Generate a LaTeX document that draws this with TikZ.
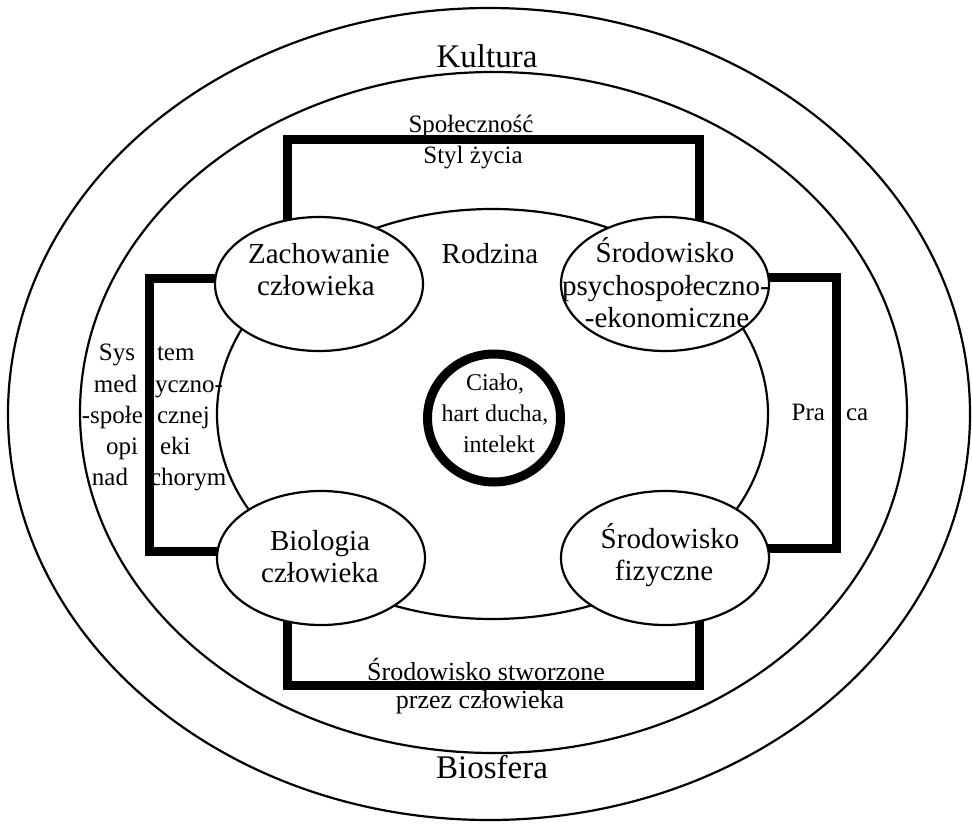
\documentclass[tikz,border=0pt]{standalone}
\usepackage{fontspec}
\setmainfont{Liberation Serif}
\usetikzlibrary{shapes.geometric,backgrounds,calc}
\begin{document}
\begin{tikzpicture}[x=1pt,y=-1pt,
  thinline/.style={draw=black, line width=2.2pt},
  oval/.style={ellipse, thinline, inner sep=0pt, outer sep=0pt},
  blob/.style={oval, fill=white, minimum width=208pt, minimum height=134pt},
  bracketline/.style={draw=black, line width=9pt, line join=miter},
  txt/.style={inner sep=0pt, outer sep=0pt, anchor=base},
  huge/.style={txt, font=\fontsize{33}{36}\selectfont},
  lbl/.style={txt, font=\fontsize{29}{32}\selectfont},
  smalltxt/.style={txt, font=\fontsize{25}{30}\selectfont},
  lefttxt/.style={smalltxt, anchor=base east},
  righttxt/.style={smalltxt, anchor=base west}
]
\useasboundingbox (0,0) rectangle (972,827);

% concentric ellipses
\node[oval, minimum width=962pt, minimum height=812pt] (biosfera) at (489,414) {};
\node[oval, minimum width=827pt, minimum height=681pt] (kultura) at (493.5,412.5) {};
\node[oval, minimum width=551pt, minimum height=410pt] (rodzina) at (492.5,414) {};

% the four factor ellipses
\node[blob] (zach) at (319,284) {};
\node[blob] (psych) at (665,284) {};
\node[blob] (biol) at (321,558) {};
\node[blob] (fiz) at (665,558) {};

% centre
\node[ellipse, draw=black, line width=9pt, inner sep=0pt, minimum width=133pt, minimum height=128pt] (core) at (494,418) {};

% thick connectors, behind the ellipses
\coordinate (tl) at (287,139);
\coordinate (tr) at (699,139);
\coordinate (lt) at (149,278);
\coordinate (lb) at (149,551);
\coordinate (rt) at (836,277);
\coordinate (rb) at (836,548);
\coordinate (bl) at (287,685);
\coordinate (br) at (699,685);
\begin{scope}[on background layer]
  \draw[bracketline] ($(zach.center)+(-32,0)$) -- (tl) -- (tr) -- ($(psych.center)+(34,0)$);
  \draw[bracketline] ($(zach.center)+(0,-6)$) -- (lt) -- (lb) -- ($(biol.center)+(0,-7)$);
  \draw[bracketline] ($(psych.center)+(0,-7)$) -- (rt) -- (rb) -- ($(fiz.center)+(0,-10)$);
  \draw[bracketline] ($(biol.center)+(-34,0)$) -- (bl) -- (br) -- ($(fiz.center)+(34,0)$);
\end{scope}

% texts
\node[huge] (tkult) at (487,67) {Kultura};
\node[huge] (tbio) at (492,778) {Biosfera};

\node[smalltxt] (tspol) at (471,132) {Społeczność};
\node[smalltxt] (tstyl) at (473,163) {Styl życia};

\node[lbl] (tz1) at (319,263) {Zachowanie};
\node[lbl] (tz2) at (316,295) {człowieka};
\node[lbl] (trodz) at (490,263) {Rodzina};
\node[lbl] (tp1) at (665,262) {Środowisko};
\node[lbl] (tp2) at (666,295) {psychospołeczno-};
\node[lbl] (tp3) at (667,327) {-ekonomiczne};
\node[lbl] (tb1) at (320,550) {Biologia};
\node[lbl] (tb2) at (320,582) {człowieka};
\node[lbl] (tf1) at (670,548) {Środowisko};
\node[lbl] (tf2) at (664,580) {fizyczne};

\node[txt, font=\fontsize{24}{31}\selectfont] (tc1) at (495,390) {Ciało,};
\node[txt, font=\fontsize{24}{31}\selectfont] (tc2) at (495,421) {hart ducha,};
\node[txt, font=\fontsize{24}{31}\selectfont] (tc3) at (499,452) {intelekt};

\node[lefttxt] (ts1a) at (135,360) {Sys};
\node[righttxt] (ts1b) at (157,360) {tem};
\node[lefttxt] (ts2a) at (137,392) {med};
\node[righttxt] (ts2b) at (155,392) {yczno-};
\node[lefttxt] (ts3a) at (143,423) {-społe};
\node[righttxt] (ts3b) at (157,423) {cznej};
\node[lefttxt] (ts4a) at (138,454) {opi};
\node[righttxt] (ts4b) at (160,454) {eki};
\node[lefttxt] (ts5a) at (128,485) {nad};
\node[righttxt] (ts5b) at (150,485) {chorym};

\node[lefttxt] (tpra) at (825,420) {Pra};
\node[righttxt] (tca) at (846,420) {ca};

\node[txt, font=\fontsize{26}{30}\selectfont] (tsr1) at (486,680) {Środowisko stworzone};
\node[txt, font=\fontsize{26}{30}\selectfont] (tsr2) at (480,708) {przez człowieka};
\end{tikzpicture}
\end{document}
